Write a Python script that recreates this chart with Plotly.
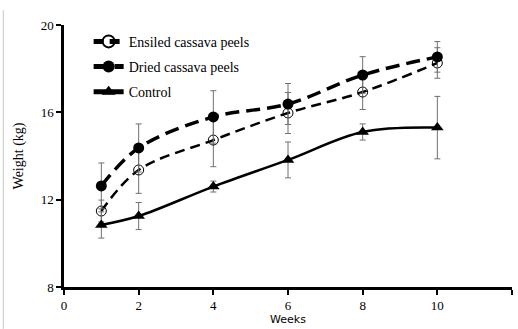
import plotly.graph_objects as go

weeks = [1, 2, 4, 6, 8, 10]
ensiled = [11.48, 13.36, 14.73, 15.97, 16.93, 18.26]
ensiled_err = [0.5, 1.07, 1.22, 0.94, 0.8, 0.7]
dried = [12.63, 14.37, 15.79, 16.38, 17.71, 18.54]
dried_err = [1.05, 1.1, 1.2, 0.94, 0.84, 0.7]
control = [10.84, 11.25, 12.6, 13.82, 15.1, 15.3]
control_err = [0.6, 0.62, 0.25, 0.82, 0.37, 1.43]

series_names = ["Ensiled cassava peels", "Dried cassava peels", "Control"]
x_ticks = [0, 2, 4, 6, 8, 10, 12]
y_ticks = [8, 12, 16, 20]

serif = "Liberation Serif, Times New Roman, serif"

def err(vals):
    return dict(type="data", array=vals, visible=True, color="#707070",
                thickness=1, width=3)

fig = go.Figure()
fig.add_trace(go.Scatter(
    x=weeks, y=ensiled, name=series_names[0], mode="lines+markers", legendgroup="e",
    line=dict(color="black", width=2.5, dash="10px,6px", shape="spline", smoothing=1),
    marker=dict(symbol="circle-open", size=10, color="black", line=dict(width=1)),
    error_y=err(ensiled_err)))
fig.add_trace(go.Scatter(
    x=weeks, y=dried, name=series_names[1], mode="lines+markers", legendgroup="d",
    line=dict(color="black", width=3.5, dash="14px,7px", shape="spline", smoothing=1),
    marker=dict(symbol="circle", size=11, color="black"),
    error_y=err(dried_err)))
fig.add_trace(go.Scatter(
    x=weeks, y=control, name=series_names[2], mode="lines+markers", legendgroup="c",
    line=dict(color="black", width=2.5, shape="spline", smoothing=1),
    marker=dict(symbol="triangle-up", size=11, color="black"),
    error_y=err(control_err)))

fig.update_layout(
    width=518, height=329,
    margin=dict(l=64, r=6, t=25, b=42),
    paper_bgcolor="white", plot_bgcolor="white",
    showlegend=True,
    legend=dict(x=0.055, y=0.997, xanchor="left", yanchor="top",
                traceorder="grouped", bgcolor="rgba(0,0,0,0)",
                font=dict(family=serif, size=14, color="black"),
                itemsizing="constant", itemwidth=30, tracegroupgap=4),
    font=dict(family=serif, size=12, color="black"),
)
fig.update_xaxes(range=[0, 12], tickvals=x_ticks, showgrid=False, zeroline=False,
                 showline=True, linecolor="black", linewidth=2.5,
                 ticks="outside", ticklen=5, tickwidth=2, tickcolor="black",
                 tickfont=dict(family=serif, size=13),
                 title=dict(text="Weeks", standoff=2,
                            font=dict(family="DejaVu Sans", size=11)))
fig.update_yaxes(range=[8, 20], tickvals=y_ticks, showgrid=False, zeroline=False,
                 showline=True, linecolor="black", linewidth=2.5,
                 ticks="outside", ticklen=5, tickwidth=2, tickcolor="black",
                 tickfont=dict(family=serif, size=13),
                 title=dict(text="Weight (kg)", standoff=14,
                            font=dict(family=serif, size=14)))

fig.add_shape(type="line", xref="paper", yref="paper",
              x0=-0.1355, x1=-0.1355, y0=1.057, y1=-0.16,
              line=dict(color="#c8c8c8", width=1))

fig.write_html("out.html")
